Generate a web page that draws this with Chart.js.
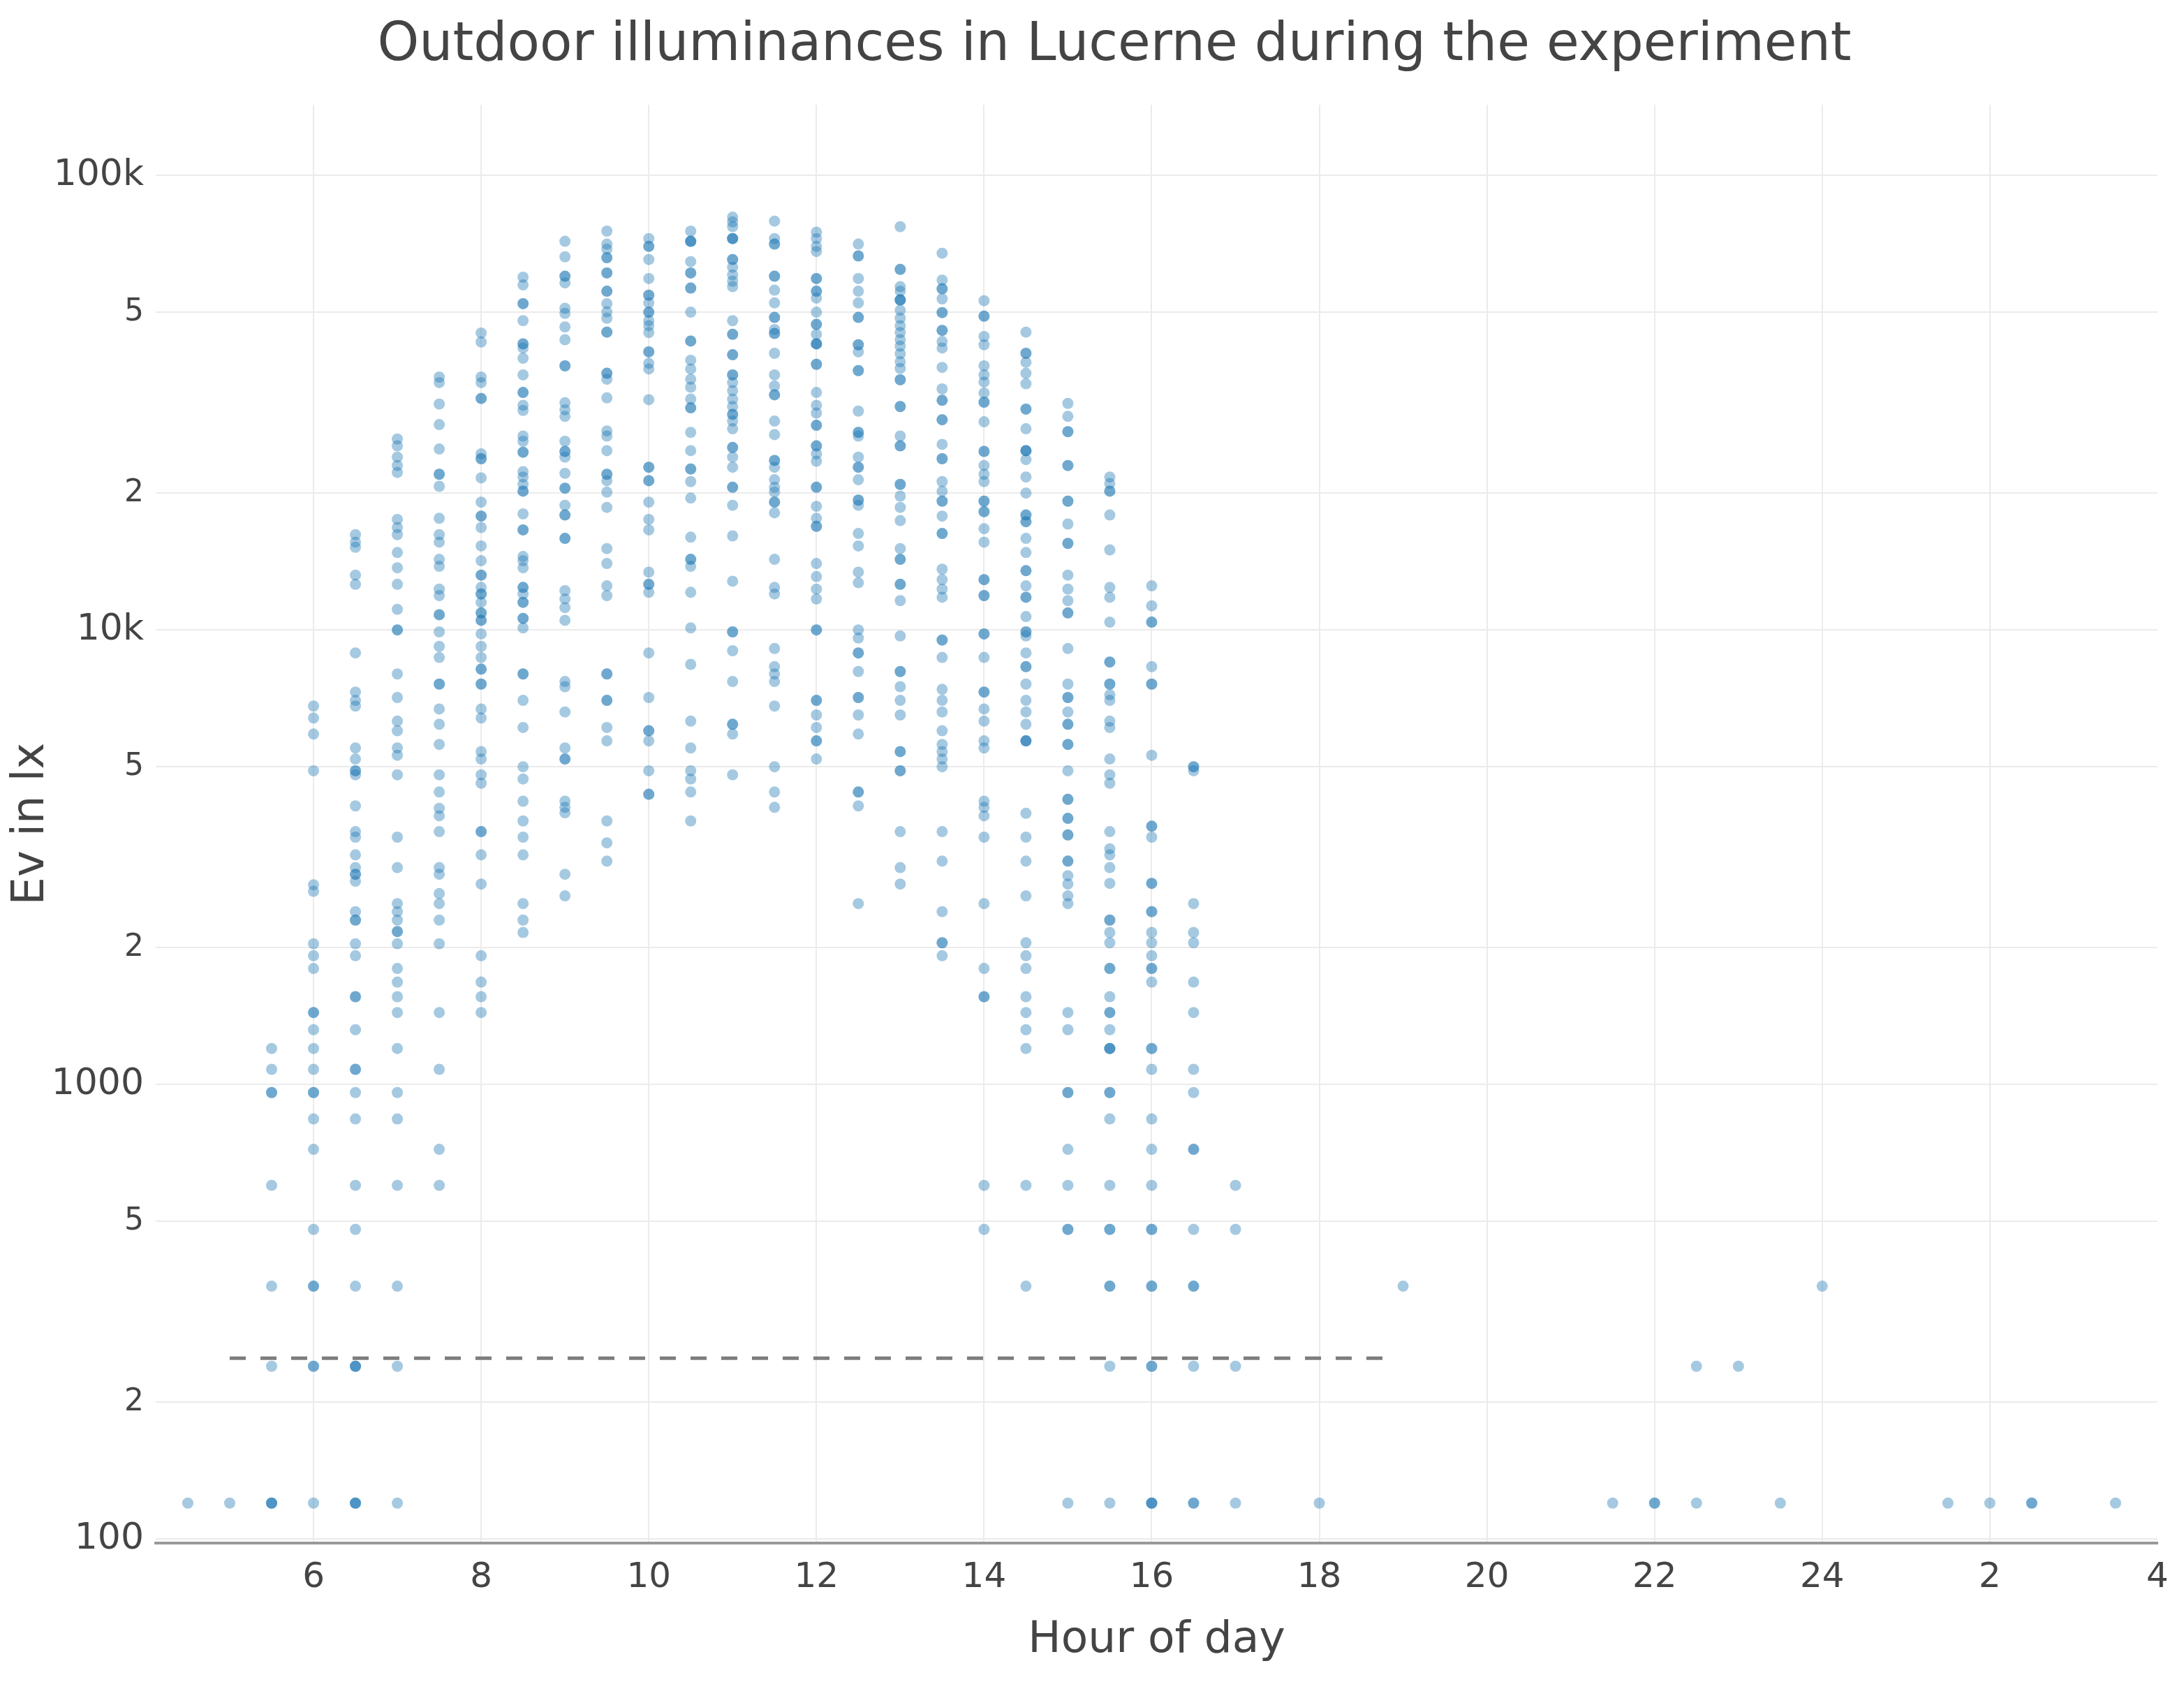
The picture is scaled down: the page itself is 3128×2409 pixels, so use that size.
<!DOCTYPE html>
<html>
<head>
<meta charset="utf-8">
<title>Outdoor illuminances in Lucerne</title>
<script src="https://cdn.jsdelivr.net/npm/chart.js@4.4.1/dist/chart.umd.min.js"></script>
<style>
  html, body { margin: 0; padding: 0; background: #fff; }
  canvas { display: block; }
</style>
</head>
<body>
<canvas id="luxChart" width="3128" height="2409"></canvas>
<script>
// measurement slots (hour of day, past midnight continues as 24+h)
const hours = [4.5, 5, 5.5, 6, 6.5, 7, 7.5, 8, 8.5, 9, 9.5, 10, 10.5, 11, 11.5, 12,
  12.5, 13, 13.5, 14, 14.5, 15, 15.5, 16, 16.5, 17, 18, 19, 21.5, 22, 22.5, 23,
  23.5, 24, 25.5, 26, 26.5, 27.5];

// measured outdoor illuminance (lx) for each slot above
const luxByHour = [
  [120],
  [120],
  [1200, 1080, 960, 960, 600, 360, 240, 120, 120, 120],
  [6800, 6400, 5900, 4900, 2750, 2660, 2040, 1920, 1800, 1440, 1440, 1320, 1200, 1080, 960, 960, 840, 720, 480, 360, 360, 240, 240, 120],
  [16200, 15600, 15200, 13200, 12600, 8900, 7300, 7000, 6800, 5500, 5200, 4900, 4900, 4800, 4100, 3600, 3500, 3200, 3000, 2900, 2900, 2800, 2400, 2300, 2300, 2040, 1920, 1560, 1560, 1320, 1080, 1080, 960, 840, 600, 480, 360, 240, 240, 240, 120, 120, 120],
  [26300, 25400, 24000, 23000, 22200, 17500, 16800, 16200, 14800, 13700, 12600, 11100, 10000, 10000, 8000, 7100, 6300, 6000, 5500, 5300, 4800, 3500, 3000, 2500, 2400, 2300, 2170, 2170, 2040, 1800, 1680, 1560, 1440, 1200, 960, 840, 600, 360, 240, 120],
  [36000, 35000, 31400, 28300, 25000, 22000, 22000, 20700, 17600, 16200, 15600, 14300, 13800, 12300, 11900, 10800, 10800, 9900, 9200, 8700, 7600, 7600, 6700, 6200, 5600, 4800, 4400, 4050, 3900, 3600, 3000, 2900, 2630, 2500, 2300, 2040, 1440, 1080, 720, 600],
  [45000, 43000, 36000, 35000, 32300, 32300, 24400, 23800, 23800, 21600, 19100, 17800, 17800, 16800, 15300, 14200, 13200, 13200, 12400, 12000, 12000, 11500, 10900, 10900, 10500, 10500, 9800, 9200, 8700, 8200, 8200, 7600, 7600, 6700, 6400, 5400, 5200, 4800, 4600, 3600, 3600, 3200, 2760, 1920, 1680, 1560, 1440],
  [59700, 57400, 52200, 52200, 47900, 42600, 42600, 41700, 39600, 36400, 33300, 33300, 31200, 30400, 26700, 26000, 24600, 24600, 22300, 21700, 20900, 20200, 20200, 18000, 16600, 16600, 14500, 14200, 13700, 12400, 12400, 12000, 11500, 11500, 10600, 10600, 10100, 8000, 8000, 7000, 6100, 5000, 4700, 4200, 3800, 3500, 3200, 2500, 2300, 2160],
  [71600, 66200, 60000, 60000, 58000, 51000, 49700, 46400, 43500, 38100, 38100, 31600, 30500, 29500, 26000, 24700, 24700, 24000, 22100, 20500, 20500, 18800, 17900, 17900, 15900, 15900, 12200, 11700, 11200, 10500, 7700, 7500, 6600, 5500, 5200, 5200, 4200, 4070, 3960, 2900, 2600],
  [75400, 70600, 68800, 65900, 65900, 61000, 61000, 55600, 55600, 52200, 50100, 48500, 45200, 45200, 36700, 36700, 35600, 32400, 27400, 26700, 24800, 22000, 22000, 21300, 20100, 18600, 15100, 14000, 12500, 11900, 8000, 8000, 7000, 7000, 6100, 5700, 3800, 3400, 3100],
  [72600, 69800, 69800, 65300, 59300, 54500, 54500, 52400, 50000, 50000, 47900, 46700, 45100, 40900, 40900, 38600, 37500, 32100, 22800, 22800, 21300, 21300, 19100, 17500, 16600, 13400, 12600, 12600, 12100, 8900, 7100, 6000, 6000, 5700, 4900, 4350, 4350],
  [75400, 71600, 71600, 71600, 64600, 61000, 61000, 56500, 56500, 50000, 43200, 43200, 39200, 37500, 35600, 34200, 32200, 30800, 30800, 27200, 24800, 22600, 22600, 21200, 19500, 16000, 14300, 14300, 13800, 12100, 10100, 8400, 6300, 5500, 4900, 4700, 4400, 3800],
  [80900, 79000, 77100, 72600, 72600, 72600, 65300, 65300, 62800, 60400, 58500, 56900, 47900, 44700, 44700, 40300, 40300, 36400, 36400, 35000, 33600, 32200, 31000, 29800, 29800, 28800, 27700, 25200, 25200, 24000, 22800, 20600, 20600, 18800, 16100, 12800, 9900, 9900, 9000, 7700, 6200, 6200, 5900, 4800],
  [79300, 72600, 70600, 70600, 60000, 60000, 55900, 52400, 48700, 48700, 45800, 44900, 44900, 40600, 36400, 34400, 32900, 32900, 28800, 26900, 23600, 23600, 22800, 21400, 20600, 20100, 19100, 19100, 18100, 14300, 12400, 12000, 9100, 8300, 8000, 7700, 6800, 5000, 4400, 4070],
  [75000, 72600, 69800, 68000, 59300, 59300, 55600, 55600, 53700, 50000, 47000, 47000, 44700, 42600, 42600, 42600, 38400, 38400, 33300, 31200, 30000, 28200, 28200, 25400, 25400, 24400, 23500, 20600, 20600, 18700, 17600, 16900, 16900, 14000, 13100, 12300, 11700, 10000, 10000, 7000, 7000, 6500, 6100, 5700, 5700, 5200],
  [70600, 66500, 66500, 59300, 55600, 52400, 48700, 48700, 42400, 42400, 40900, 37200, 37200, 30300, 27200, 27200, 26700, 24000, 22800, 22800, 21400, 19300, 19300, 18800, 16300, 15300, 13400, 12700, 10000, 9600, 8900, 8900, 8100, 7100, 7100, 6500, 5900, 4400, 4400, 4100, 2500],
  [77100, 62100, 62100, 56900, 55600, 53200, 53200, 53200, 50500, 48500, 46700, 45100, 43500, 42100, 40500, 38900, 37600, 35500, 35500, 31000, 31000, 26700, 25400, 25400, 20900, 20900, 19700, 18600, 17400, 15100, 14300, 14300, 12600, 12600, 11600, 9700, 8100, 8100, 7500, 7000, 6500, 5400, 5400, 4900, 4900, 3600, 3000, 2760],
  [67400, 58800, 56300, 56300, 53500, 49900, 49900, 45600, 45600, 43100, 41700, 37800, 33900, 32000, 32000, 29000, 29000, 25600, 23800, 23800, 21200, 20200, 19200, 19200, 17800, 16300, 16300, 13600, 12900, 12300, 11800, 9500, 9500, 8700, 7400, 7000, 6600, 6000, 5600, 5400, 5200, 5000, 3600, 3100, 2400, 2050, 2050, 1920],
  [53000, 49000, 49000, 44200, 42400, 38100, 36400, 35100, 33200, 31700, 31700, 28700, 24700, 24700, 23000, 22000, 21200, 19200, 19200, 18200, 18200, 16700, 15600, 12900, 12900, 11900, 11900, 9800, 9800, 8700, 7300, 7300, 6700, 6300, 5700, 5500, 4200, 4070, 3900, 3500, 2500, 1800, 1560, 1560, 600, 480],
  [45200, 40600, 40600, 38800, 36700, 34800, 30600, 30600, 27700, 24800, 24800, 24800, 23700, 21700, 20000, 17900, 17900, 17300, 17300, 15900, 14800, 13500, 13500, 12500, 11800, 11800, 10700, 9900, 9900, 9700, 8900, 8300, 8300, 7600, 7000, 6600, 6200, 5700, 5700, 5700, 3950, 3500, 3100, 2600, 2050, 1920, 1800, 1560, 1440, 1320, 1200, 600, 360],
  [31500, 29500, 27300, 27300, 23000, 23000, 19200, 19200, 17100, 15500, 15500, 13200, 12300, 11600, 10900, 10900, 9100, 7600, 7100, 7100, 6600, 6200, 6200, 5600, 5600, 4900, 4240, 4240, 3850, 3850, 3540, 3540, 3100, 3100, 2880, 2760, 2600, 2500, 1440, 1320, 960, 960, 720, 600, 480, 480, 120],
  [21700, 21000, 20200, 20200, 17900, 15000, 12400, 11800, 10400, 8500, 8500, 7600, 7600, 7200, 7000, 6300, 6100, 5200, 4800, 4600, 3600, 3300, 3200, 3000, 2770, 2300, 2300, 2160, 2050, 1800, 1800, 1560, 1440, 1440, 1320, 1200, 1200, 1200, 960, 960, 840, 600, 480, 480, 360, 360, 240, 120],
  [12500, 11300, 10400, 10400, 8300, 7600, 7600, 5300, 3700, 3700, 3500, 2770, 2770, 2400, 2400, 2160, 2050, 1920, 1800, 1800, 1680, 1200, 1200, 1080, 840, 720, 600, 480, 480, 360, 360, 240, 240, 120, 120, 120],
  [5000, 5000, 4900, 2500, 2160, 2050, 1680, 1440, 1080, 960, 720, 720, 480, 360, 360, 240, 120, 120],
  [600, 480, 240, 120],
  [120],
  [360],
  [120],
  [120, 120],
  [240, 120],
  [240],
  [120],
  [360],
  [120],
  [120],
  [120, 120],
  [120]
];

// dashed reference level
const thresholdLux = 250;
const thresholdHours = [5, 18.84];

// axis ticks
const xTicks = [6, 8, 10, 12, 14, 16, 18, 20, 22, 24, 26, 28];
const yTicks = [100, 200, 500, 1000, 2000, 5000, 10000, 20000, 50000, 100000];
const yTickLabels = ["100", "2", "5", "1000", "2", "5", "10k", "2", "5", "100k"];
const yMajor = [100, 1000, 10000, 100000];

const chartTitle = "Outdoor illuminances in Lucerne during the experiment";

const points = [];
hours.forEach((h, i) => {
  luxByHour[i].forEach(v => points.push({ x: h, y: v }));
});

Chart.defaults.font.family = '"DejaVu Sans", Verdana, sans-serif';
Chart.defaults.color = "#444";

// title is drawn by hand so it can sit a bit right of the canvas centre, as in the original
const titleDraw = {
  id: "titleDraw",
  afterDraw(chart) {
    const ctx = chart.ctx;
    ctx.save();
    ctx.font = '76px "DejaVu Sans", Verdana, sans-serif';
    ctx.fillStyle = "#444";
    ctx.textAlign = "center";
    ctx.textBaseline = "middle";
    ctx.fillText(chartTitle, 1596, 66);
    ctx.restore();
  }
};

new Chart(document.getElementById("luxChart"), {
  type: "scatter",
  data: {
    datasets: [
      {
        type: "line",
        data: thresholdHours.map(h => ({ x: h, y: thresholdLux })),
        borderColor: "rgb(125,125,125)",
        borderWidth: 5,
        borderDash: [23, 21],
        pointRadius: 0,
        fill: false
      },
      {
        data: points,
        backgroundColor: "rgba(31,119,180,0.4)",
        borderWidth: 0,
        pointRadius: 8,
        pointHoverRadius: 8
      }
    ]
  },
  options: {
    responsive: false,
    animation: false,
    devicePixelRatio: 1,
    layout: { padding: { top: 150, right: 38, bottom: 0, left: 0 } },
    plugins: {
      legend: { display: false },
      tooltip: { enabled: false },
      title: { display: false }
    },
    scales: {
      x: {
        type: "linear",
        min: 4.117,
        max: 28,
        afterBuildTicks: s => { s.ticks = xTicks.map(v => ({ value: v })); },
        afterFit: s => { s.height = 199; },
        ticks: {
          autoSkip: false,
          maxRotation: 0,
          padding: 20,
          color: "#444",
          font: { size: 50 },
          callback: v => (v > 24 ? v - 24 : v).toString()
        },
        grid: {
          color: c => (c.tick && c.tick.value === 28 ? "rgba(0,0,0,0)" : "#ebebeb"),
          lineWidth: 2,
          drawTicks: false
        },
        border: { display: true, color: "#999", width: 4 },
        title: {
          display: true,
          text: "Hour of day",
          color: "#444",
          font: { size: 63 },
          padding: { top: 0, bottom: 22 }
        }
      },
      y: {
        type: "logarithmic",
        min: 98,
        max: 143000,
        afterBuildTicks: s => { s.ticks = yTicks.map(v => ({ value: v })); },
        afterFit: s => { s.width = 223; },
        ticks: {
          padding: 17,
          color: "#444",
          font: c => ({ size: c.tick && yMajor.includes(c.tick.value) ? 52 : 44 }),
          callback: (v, i) => yTickLabels[i]
        },
        grid: { color: "#ebebeb", lineWidth: 2, drawTicks: false },
        border: { display: false },
        title: {
          display: true,
          text: "Ev in lx",
          color: "#444",
          font: { size: 64 },
          padding: { top: 7, bottom: 0 }
        }
      }
    }
  },
  plugins: [titleDraw]
});
</script>
</body>
</html>
